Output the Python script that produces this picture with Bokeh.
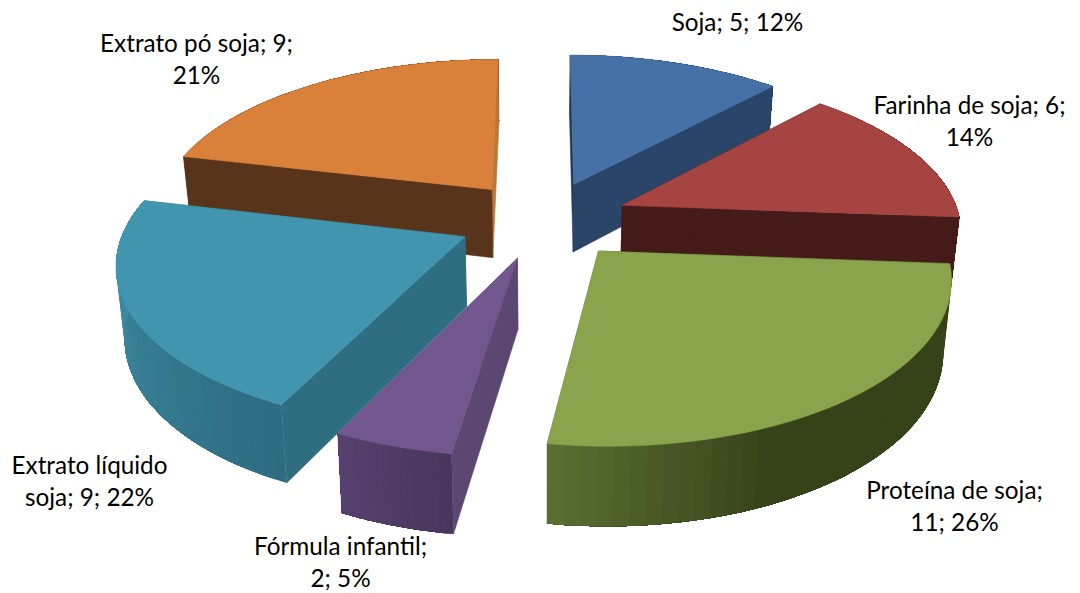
import math

from bokeh.core.properties import value
from bokeh.embed import file_html
from bokeh.models import ColumnDataSource, Range1d
from bokeh.plotting import figure
from bokeh.resources import INLINE

# Consumption of soy products per category
names = ["Soja", "Farinha de soja", "Proteína de soja", "Fórmula infantil",
         "Extrato líquido soja", "Extrato pó soja"]
amounts = [5, 6, 11, 2, 9.05, 8.95]

top_colors = ["#4671A7", "#A64441", "#89A44D", "#71578D", "#4195AE", "#D9803B"]
start_wall_colors = ["#1F3A5C", "#451B1A", "#374419", "#5B4772", "#2F6E80", "#57341A"]
end_wall_colors = ["#2A4567", "#451B1A", "#586E31", "#5B4772", "#2F6E80", "#B87838"]
# Rim shading along each slice: (fraction where shading starts, first colour, last colour)
rim_shades = [
    (0.0, "#2A4567", "#2A4567"),
    (0.0, "#451B1A", "#451B1A"),
    (0.66, "#364319", "#5A7033"),
    (0.0, "#47365C", "#57416F"),
    (0.0, "#2E6C80", "#4093AC"),
    (0.0, "#57341A", "#57341A"),
]
# Slices whose rim faces the viewer paint it over their cut faces
rim_in_front = [False, False, True, True, True, False]

# Painter's order, rear slices first
draw_order = [0, 5, 1, 4, 3, 2]

# Where each label line breaks, and the label's centre in pixels
label_breaks = ["Soja; {n}; {s}%", "Farinha de soja; {n};\n{s}%", "Proteína de soja;\n{n}; {s}%",
                "Fórmula infantil;\n{n}; {s}%", "Extrato líquido\nsoja; {n}; {s}%", "Extrato pó soja; {n};\n{s}%"]
label_x = [737, 969, 954, 340, 89, 196]
label_y = [21, 120, 505, 561, 480, 58]

# Camera model for the tilted pie
CX, CY = 543, 219
SCALE_X, SCALE_Y = 338, 157
PERSPECTIVE = 0.144
EXPLODE_X, EXPLODE_Y = 0.2535, 0.25
DEPTH = 69.5
DEPTH_POWER = 0.75
BASE_SHRINK = 0.98
STEPS = 40


def project(x, y):
    w = 1 - PERSPECTIVE * y
    return CX + SCALE_X * x / w, CY + SCALE_Y * y / w, w


def drop(point):
    sx, sy, w = point
    return CX + (sx - CX) * BASE_SHRINK, sy + DEPTH / w ** DEPTH_POWER


def mix(c0, c1, t):
    a = [int(c0[i:i + 2], 16) for i in (1, 3, 5)]
    b = [int(c1[i:i + 2], 16) for i in (1, 3, 5)]
    return "#%02x%02x%02x" % tuple(round(u + (v - u) * t) for u, v in zip(a, b))


p = figure(width=1080, height=593, output_backend="svg", toolbar_location=None,
           x_range=Range1d(0, 1080), y_range=Range1d(593, 0), min_border=0)
p.axis.visible = False
p.grid.visible = False
p.outline_line_color = None
p.background_fill_color = "white"
p.border_fill_color = "white"

total = sum(amounts)
starts = [sum(amounts[:i]) / total * 2 * math.pi for i in range(len(amounts))]


def add_poly(points, color, outline=True):
    p.patch([q[0] for q in points], [q[1] for q in points], fill_color=color,
            line_color=color if outline else None, line_width=0.6)


def add_rim(i, arc):
    # Each band covers the rest of the arc and the next band paints over it,
    # which leaves no seams between the shades
    shade_from, c0, c1 = rim_shades[i]
    for s in range(STEPS):
        f = (s + 0.5) / STEPS
        t = max(0.0, (f - shade_from) / (1 - shade_from))
        rest = arc[s:]
        add_poly(rest + [drop(q) for q in reversed(rest)], mix(c0, c1, t), outline=False)


for i in draw_order:
    a0 = starts[i]
    a1 = a0 + amounts[i] / total * 2 * math.pi
    mid = (a0 + a1) / 2
    ox, oy = EXPLODE_X * math.sin(mid), -EXPLODE_Y * math.cos(mid)
    apex = project(ox, oy)
    arc = []
    for s in range(STEPS + 1):
        a = a0 + (a1 - a0) * s / STEPS
        arc.append(project(ox + math.sin(a), oy - math.cos(a)))

    if not rim_in_front[i]:
        add_rim(i, arc)

    # The two cut faces running from the apex to the rim
    add_poly([apex, arc[-1], drop(arc[-1]), drop(apex)], end_wall_colors[i])
    add_poly([apex, arc[0], drop(arc[0]), drop(apex)], start_wall_colors[i])

    if rim_in_front[i]:
        add_rim(i, arc)

    # Top face
    add_poly([apex] + arc, top_colors[i])

label_texts = [b.format(n=round(v), s=round(100 * v / total)) for b, v in zip(label_breaks, amounts)]
labels = ColumnDataSource(dict(x=label_x, y=label_y, text=label_texts))
p.text("x", "y", text="text", source=labels, text_font=value("Lato"), text_font_size="24.3px",
       text_color="#000000", text_align="center", text_baseline="middle", text_line_height=1.1)

open("out.html", "w").write(file_html(p, INLINE))
